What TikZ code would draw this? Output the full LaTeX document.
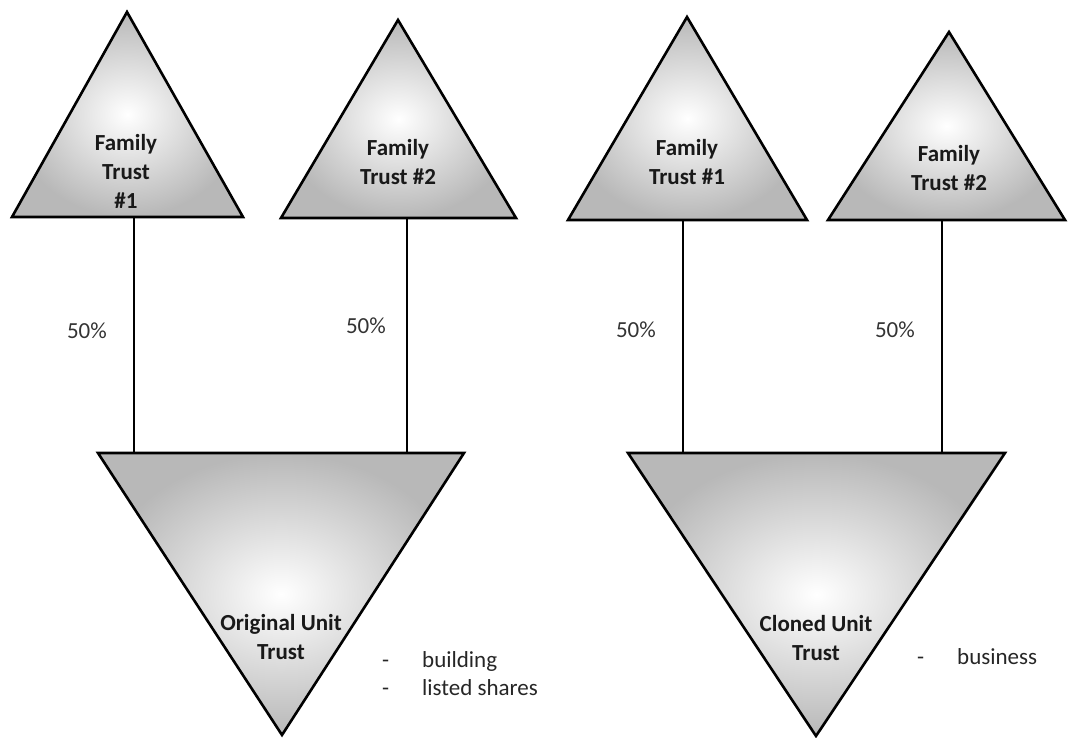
\documentclass[tikz,border=0pt]{standalone}
\usepackage{fontspec}
\setmainfont{Carlito}
\usepackage{tikz}
\usetikzlibrary{positioning}

\tikzset{
  trust/.style={draw=black, line width=2.6pt, line join=miter, inner color=white, outer color=black!28},
  link/.style={draw=black, line width=2.4pt},
  trustname/.style={align=center, font=\fontsize{23}{29}\selectfont\bfseries, text=black!90, inner sep=0pt},
  pct/.style={font=\fontsize{23}{29}\selectfont, text=black!80, inner sep=0pt},
  asset/.style={align=left, anchor=west, font=\fontsize{23}{28}\selectfont, text=black!85, inner sep=0pt}
}

\begin{document}
\begin{tikzpicture}[x=1pt, y=-1pt]
    \useasboundingbox (0,0) rectangle (1076,738);
    % Triangles
    \path[trust] (127,12) -- (12,217) -- (243,217) -- cycle;
    \path[trust] (398,20) -- (281,218) -- (516,218) -- cycle;
    \path[trust] (687,17) -- (568,220) -- (807,220) -- cycle;
    \path[trust] (949,32) -- (828,220) -- (1065,220) -- cycle;
    \path[trust] (98,453) -- (464,453) -- (282,735) -- cycle;
    \path[trust] (628,453) -- (1005,453) -- (816,736) -- cycle;
    % Texts
    \node[trustname] (fam1) at (126,171) {Family\\Trust\\\#1};
    \node[trustname] (fam2) at (398,162) {Family\\Trust \#2};
    \node[trustname] (fam3) at (687,162) {Family\\Trust \#1};
    \node[trustname] (fam4) at (949,168) {Family\\Trust \#2};
    \node[trustname] (orig) at (281,637) {Original Unit\\Trust};
    \node[trustname] (clone) at (816,638) {Cloned Unit\\Trust};
    \node[asset] (origlist) at (382,674) {\makebox[40pt][l]{-}building\\\makebox[40pt][l]{-}listed shares};
    \node[asset] (clonelist) at (917,657) {\makebox[40pt][l]{-}business};
    % Links
    \coordinate (fam1b) at (134,217);
    \coordinate (fam2b) at (407,218);
    \coordinate (fam3b) at (683,220);
    \coordinate (fam4b) at (942,220);
    \coordinate (orig1) at (134,453);
    \coordinate (orig2) at (407,453);
    \coordinate (clone1) at (683,453);
    \coordinate (clone2) at (942,453);
    \draw[link] (fam1b) -- node[pct, pos=0.48, left=26pt] {50\%} (orig1);
    \draw[link] (fam2b) -- node[pct, pos=0.46, left=20pt] {50\%} (orig2);
    \draw[link] (fam3b) -- node[pct, pos=0.47, left=26pt] {50\%} (clone1);
    \draw[link] (fam4b) -- node[pct, pos=0.47, left=26pt] {50\%} (clone2);
\end{tikzpicture}
\end{document}
